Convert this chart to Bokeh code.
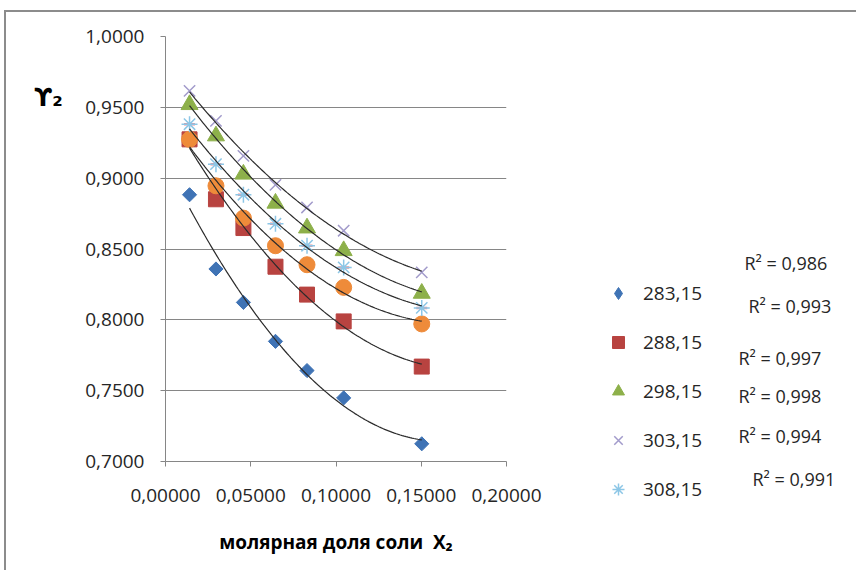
import numpy as np
from bokeh.plotting import figure
from bokeh.layouts import row
from bokeh.models import (Label, Legend, LegendItem, FixedTicker,
                          CustomJSTickFormatter, Range1d)
from bokeh.embed import file_html
from bokeh.resources import INLINE

# ---- data ----
x_salt = [0.0141, 0.0296, 0.0457, 0.0645, 0.0830, 0.1045, 0.1503]
g_283 = [0.8883, 0.8359, 0.8123, 0.7848, 0.7642, 0.7449, 0.7125]
g_288 = [0.9274, 0.8851, 0.8648, 0.8375, 0.8178, 0.7989, 0.7670]
g_293 = [0.9274, 0.8946, 0.8718, 0.8523, 0.8389, 0.8229, 0.7971]
g_298 = [0.9519, 0.9298, 0.9028, 0.8823, 0.8648, 0.8488, 0.8187]
g_303 = [0.9616, 0.9404, 0.9157, 0.8953, 0.8793, 0.8629, 0.8335]
g_308 = [0.9381, 0.9099, 0.8883, 0.8678, 0.8523, 0.8370, 0.8084]
legend_labels = ["283,15", "288,15", "298,15", "303,15", "308,15"]
r2_texts = ["R² = 0,986", "R² = 0,993", "R² = 0,997", "R² = 0,998", "R² = 0,994", "R² = 0,991"]
x_ticks = [0.0, 0.05, 0.10, 0.15, 0.20]
y_ticks = [0.70, 0.75, 0.80, 0.85, 0.90, 0.95, 1.00]

FONT = "Open Sans"
TXT = "#262626"
GRID = "#868686"
H = 558

sty_283 = dict(marker="square", angle=np.pi / 4, size=10, fill_color="#3F73B5", line_color="#3F73B5")
sty_283_leg = dict(marker="diamond", size=16, fill_color="#3F73B5", line_color="#3F73B5")
sty_288 = dict(marker="square", size=15, fill_color="#B84340", line_color="#B84340")
sty_293 = dict(marker="circle", size=16, fill_color="#EE8B3A", line_color="#EE8B3A")
sty_298 = dict(marker="triangle", size=17, fill_color="#8DB04A", line_color="#8DB04A")
sty_303 = dict(marker="x", size=16, line_color="#A29BCB", line_width=1.5)
sty_308 = dict(marker="asterisk", size=16, line_color="#8CC6E6", line_width=1.5)


def free_frame(fig, w, h):
    fig.frame_width = w
    fig.frame_height = h
    if "frame_align" in fig.properties():
        fig.frame_align = False


# ---- left strip with the y title ----
p0 = figure(width=58, height=H, output_backend="svg", toolbar_location=None,
            x_axis_location=None, y_axis_location=None,
            x_range=Range1d(6, 64), y_range=Range1d(12 + H, 12),
            min_border=0, outline_line_color=None)
free_frame(p0, 58, H)
p0.grid.visible = False
p0.add_layout(Label(x=48, y=97, text="ϒ₂",
                    text_font="DejaVu Sans", text_font_size="24px", text_font_style="bold",
                    text_color="black", text_align="center", text_baseline="middle"))

# ---- main plot ----
p = figure(width=496, height=H, output_backend="svg", toolbar_location=None,
           x_range=Range1d(0, 0.2), y_range=Range1d(0.7, 1.0),
           min_border_left=101, min_border_right=54,
           min_border_top=24, min_border_bottom=109,
           frame_width=341, frame_height=425)
p.outline_line_color = None
p.xgrid.visible = False
p.ygrid.grid_line_color = GRID
p.ygrid.grid_line_width = 1
p.ygrid.ticker = FixedTicker(ticks=y_ticks)

p.xaxis.ticker = FixedTicker(ticks=x_ticks)
p.yaxis.ticker = FixedTicker(ticks=y_ticks)
p.xaxis.formatter = CustomJSTickFormatter(code="return tick.toFixed(5).replace('.', ',');")
p.yaxis.formatter = CustomJSTickFormatter(code="return tick.toFixed(4).replace('.', ',');")
for ax in (p.xaxis, p.yaxis):
    ax.axis_line_color = GRID
    ax.major_tick_line_color = GRID
    ax.major_tick_out = 5
    ax.major_tick_in = 0
    ax.minor_tick_line_color = None
    ax.major_label_text_font = FONT
    ax.major_label_text_font_size = "19px"
    ax.major_label_text_color = TXT
p.yaxis.major_label_standoff = 16
p.xaxis.major_label_standoff = 22
p.xaxis.axis_label = "молярная доля соли\u00a0 X₂"
p.xaxis.axis_label_text_font = FONT
p.xaxis.axis_label_text_font_size = "19px"
p.xaxis.axis_label_text_font_style = "bold"
p.xaxis.axis_label_text_color = "black"
p.xaxis.axis_label_standoff = 24

series = [(g_283, sty_283), (g_288, sty_288), (g_293, sty_293),
          (g_298, sty_298), (g_303, sty_303), (g_308, sty_308)]
for ys, s in series:
    if s is sty_308:
        p.scatter(x_salt, ys, marker="dash", size=11, line_color="#E8909A", line_width=2.5)
    p.scatter(x_salt, ys, **s)

# polynomial (order 2) trend lines fitted to each series
for ys, _ in series:
    c = np.polyfit(x_salt, ys, 2)
    xx = np.linspace(x_salt[0], x_salt[-1], 120)
    p.line(xx, np.polyval(c, xx), line_color="#2b2b2b", line_width=1.2)

# ---- right strip: legend and R² texts (page-pixel coordinates) ----
p2 = figure(width=296, height=H, output_backend="svg", toolbar_location=None,
            x_axis_location=None, y_axis_location=None,
            x_range=Range1d(560, 856), y_range=Range1d(12 + H, 12),
            min_border=0, outline_line_color=None)
free_frame(p2, 296, H)
p2.grid.visible = False
# same series, out of this strip's view, only to feed the legend glyphs
leg_r = [p2.scatter(x_salt, ys, **s) for ys, s in
         [(g_283, sty_283_leg), (g_288, sty_288), (g_298, sty_298), (g_303, sty_303), (g_308, sty_308)]]
items = [LegendItem(label=lab, renderers=[r]) for lab, r in zip(legend_labels, leg_r)]
leg = Legend(items=items, location=(43, 66), orientation="vertical",
             border_line_color=None, background_fill_alpha=0,
             padding=0, margin=0, spacing=19,
             glyph_width=30, glyph_height=30, label_height=30,
             label_standoff=10, label_text_font=FONT,
             label_text_font_size="19px", label_text_color=TXT)
p2.add_layout(leg, "center")

r2_x = [744, 748, 738, 738, 738, 752]
r2_y = [262, 305, 357, 395, 435, 478]
for t, xx, yy in zip(r2_texts, r2_x, r2_y):
    p2.add_layout(Label(x=xx, y=yy, text=t, text_font=FONT, text_font_size="18px",
                        text_color=TXT, text_baseline="middle", text_align="left"))

layout = row(p0, p, p2)
layout.styles = {"margin-left": "4px", "margin-top": "10px",
                 "border-left": "2px solid #8c8c8c", "border-top": "2px solid #8c8c8c"}

open("out.html", "w").write(file_html(layout, INLINE))
